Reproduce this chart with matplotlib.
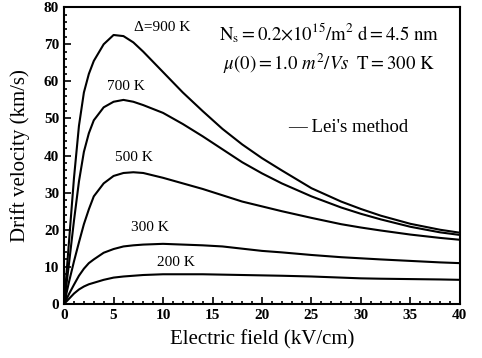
import matplotlib
matplotlib.use("Agg")
import matplotlib.pyplot as plt
from matplotlib.ticker import MultipleLocator

# electric field grid (kV/cm)
field = [0, 0.5, 1, 1.5, 2, 2.5, 3, 4, 5, 6, 7, 8, 10, 12, 14, 16, 18, 20, 22, 25, 28, 30, 32, 35, 38, 40]

# drift velocity (km/s)
v900 = [0, 17, 34, 48, 57, 62, 65.5, 70, 72.5, 72.2, 70.5, 68, 62.5, 57, 52, 47.2, 43, 39.3, 36, 31.2, 27.6, 25.6, 23.8, 21.6, 20, 19.2]
v700 = [0, 11, 22.5, 33, 41, 46, 49.5, 53, 54.5, 55, 54.5, 53.6, 51.5, 48.5, 45.2, 41.7, 38.2, 35.2, 32.5, 29, 26, 24.3, 22.8, 20.8, 19.3, 18.6]
v500 = [0, 6, 11.5, 16.6, 21.5, 25.5, 29, 32.5, 34.5, 35.3, 35.5, 35.3, 34, 32.5, 31, 29.3, 27.6, 26.3, 25, 23.2, 21.5, 20.6, 19.8, 18.7, 17.8, 17.3]
v300 = [0, 2.7, 5.2, 7.6, 9.5, 11, 12, 13.8, 14.8, 15.5, 15.8, 16, 16.2, 16, 15.8, 15.5, 14.9, 14.3, 13.9, 13.2, 12.6, 12.3, 12, 11.6, 11.2, 11]
v200 = [0, 1.4, 2.8, 3.9, 4.7, 5.3, 5.7, 6.5, 7.1, 7.4, 7.6, 7.8, 8, 8, 8, 7.9, 7.8, 7.7, 7.6, 7.4, 7.1, 6.9, 6.8, 6.7, 6.6, 6.5]

curves = [v900, v700, v500, v300, v200]

plt.rcParams['font.family'] = ['Liberation Serif', 'DejaVu Serif']
plt.rcParams['mathtext.fontset'] = 'stix'

fig = plt.figure(figsize=(4.82, 3.58), dpi=100)
ax = fig.add_axes([0.133, 0.151, 0.821, 0.829])

for v in curves:
    ax.plot(field, v, color='black', lw=1.5)

ax.set_xlim(0, 40)
ax.set_ylim(0, 80)
ax.xaxis.set_major_locator(MultipleLocator(5))
ax.yaxis.set_major_locator(MultipleLocator(10))
ax.xaxis.set_minor_locator(MultipleLocator(1))
ax.yaxis.set_minor_locator(MultipleLocator(2))
ax.tick_params(which='both', direction='in', top=False, right=False, labelsize=11, width=1.2)
ax.tick_params(which='major', length=5)
ax.tick_params(which='minor', length=2.5)
for lab in ax.get_xticklabels() + ax.get_yticklabels():
    lab.set_fontweight('bold')
for s in ax.spines.values():
    s.set_linewidth(1.5)

ax.set_xlabel('Electric field (kV/cm)', fontsize=15, labelpad=6)
ax.set_ylabel('Drift velocity (km/s)', fontsize=15, labelpad=10)

# curve labels
ax.text(9.9, 74.4, '\u0394=900 K', fontsize=11, ha='center', va='center')
ax.text(6.3, 58.7, '700 K', fontsize=11, ha='center', va='center')
ax.text(7.1, 39.4, '500 K', fontsize=11, ha='center', va='center')
ax.text(8.7, 20.5, '300 K', fontsize=11, ha='center', va='center')
ax.text(11.3, 11.2, '200 K', fontsize=11, ha='center', va='center')

# parameters
ax.text(26.8, 73, r'$\mathrm{N_s{=}0.2{\times}10^{15}/m^2\ d{=}4.5\ nm}$', fontsize=13.5, ha='center', va='center')
ax.text(26.8, 64.7, r'$\mathit{\mu(0){=}1.0\ m^2/Vs}\ \ \mathrm{T{=}300\ K}$', fontsize=13.5, ha='center', va='center')
ax.text(22.6, 47.5, "\u2014 Lei's method", fontsize=13.5, ha='left', va='center')

fig.savefig('out.png', dpi=100)
